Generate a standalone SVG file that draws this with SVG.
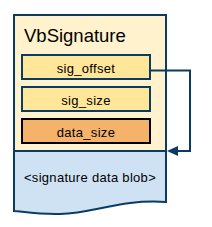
<svg xmlns="http://www.w3.org/2000/svg" width="212" height="227" viewBox="0 0 212 227">
<defs>
<style>
.lbl{font-family:"Liberation Sans",Arial,sans-serif;font-size:13px;fill:#000;text-anchor:middle;letter-spacing:0.3px}
.fld{stroke:#0B3B63;stroke-width:2;fill:#FFE699}
.line{stroke:#0B3B63;stroke-width:2;fill:none}
.head{fill:#0B3B63}
</style>
</defs>
<g id="struct">
<rect x="14" y="15" width="152" height="136" fill="#FFF2CC"/>
<path d="M14,151 H166 V202 C120,199 95,213 60,214 C40,214.5 25,212 14,211 Z" fill="#CFE2F3"/>
<path d="M14,15 H166 V202 C120,199 95,213 60,214 C40,214.5 25,212 14,211 Z" class="line"/>
<line x1="14" y1="151" x2="166" y2="151" class="line"/>
<text x="24" y="42" font-family="Liberation Sans,Arial,sans-serif" font-size="18.5" fill="#000">VbSignature</text>
</g>
<g id="sig_offset">
<rect x="22" y="55" width="128" height="24" class="fld"/>
<text x="86" y="72.5" class="lbl">sig_offset</text>
</g>
<g id="sig_size">
<rect x="22" y="87" width="128" height="24" class="fld"/>
<text x="86" y="104.5" class="lbl">sig_size</text>
</g>
<g id="data_size">
<rect x="22" y="119" width="128" height="24" fill="#F4B26B" stroke="#000" stroke-width="2"/>
<text x="86" y="136.5" class="lbl">data_size</text>
</g>
<g id="blob">
<text x="90" y="182" class="lbl">&lt;signature data blob&gt;</text>
</g>
<g id="connectors">
<path d="M150,70.5 H190 V151 H176" class="line"/>
<path d="M167,151 L178,146 L178,156 Z" class="head"/>
</g>
</svg>
